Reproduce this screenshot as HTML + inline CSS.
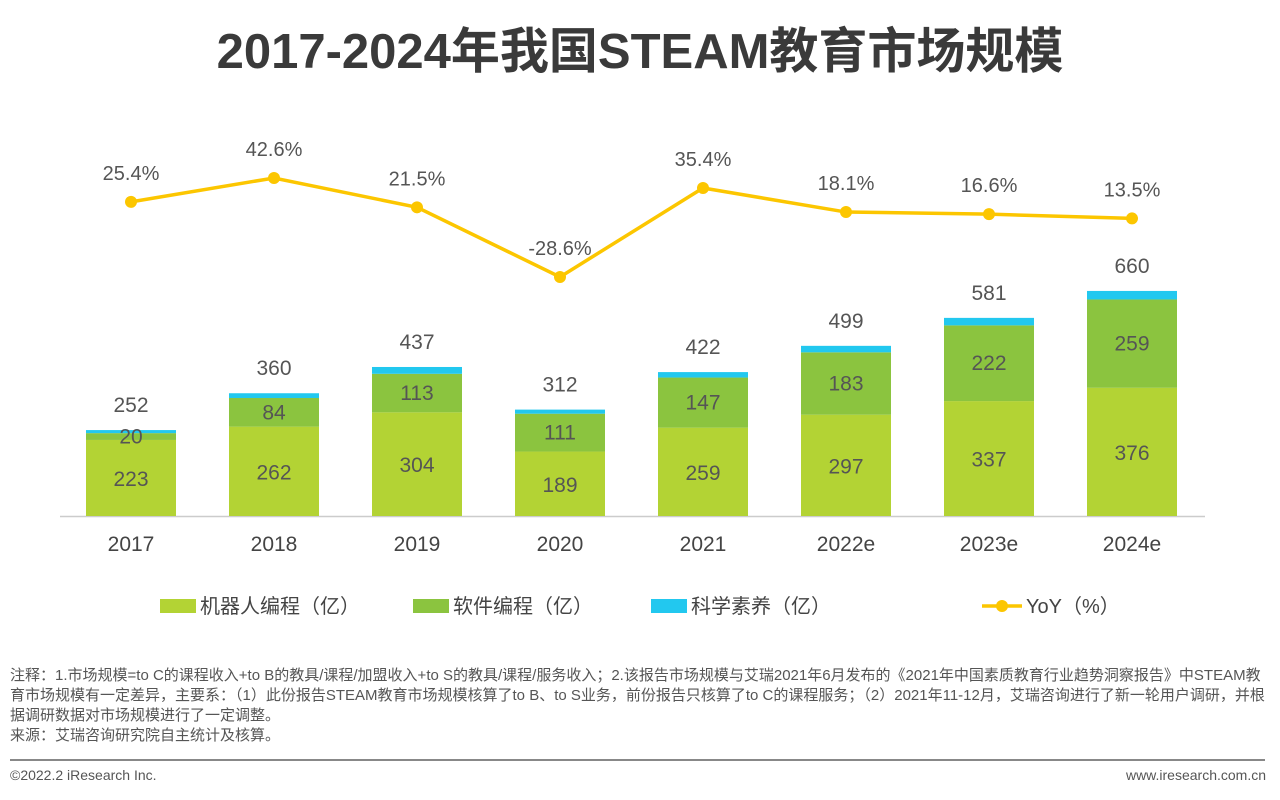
<!DOCTYPE html>
<html><head><meta charset="utf-8">
<style>
body{margin:0;width:1280px;height:800px;background:#fff;font-family:"Liberation Sans","Noto Sans CJK SC",sans-serif;overflow:hidden;position:relative}
.title{position:absolute;top:12px;left:0;width:1280px;text-align:center;font-size:49px;font-weight:bold;color:#3a3a3a}
.note{position:absolute;left:10px;top:666px;width:1262px;font-size:15px;line-height:20px;color:#555}
.rule{position:absolute;left:10px;top:759px;width:1255px;height:2px;background:#888}
.foot{position:absolute;top:767px;font-size:14px;color:#555}
</style></head><body>
<div class="title">2017-2024年我国STEAM教育市场规模</div>
<svg id="chart" width="1280" height="660" style="position:absolute;left:0;top:0"></svg>
<div class="note">注释：1.市场规模=to C的课程收入+to B的教具/课程/加盟收入+to S的教具/课程/服务收入；2.该报告市场规模与艾瑞2021年6月发布的《2021年中国素质教育行业趋势洞察报告》中STEAM教育市场规模有一定差异，主要系：（1）此份报告STEAM教育市场规模核算了to B、to S业务，前份报告只核算了to C的课程服务；（2）2021年11-12月，艾瑞咨询进行了新一轮用户调研，并根据调研数据对市场规模进行了一定调整。<br>来源：艾瑞咨询研究院自主统计及核算。</div>
<div class="rule"></div>
<div class="foot" style="left:10px">©2022.2 iResearch Inc.</div>
<div class="foot" style="right:14px">www.iresearch.com.cn</div>
<script>
const categories=["2017","2018","2019","2020","2021","2022e","2023e","2024e"];
const robot=[223,262,304,189,259,297,337,376];
const software=[20,84,113,111,147,183,222,259];
const science=[9,14,20,12,16,19,22,25];
const totals=[252,360,437,312,422,499,581,660];
const yoy=[25.4,42.6,21.5,-28.6,35.4,18.1,16.6,13.5];
const yoyLabels=["25.4%","42.6%","21.5%","-28.6%","35.4%","18.1%","16.6%","13.5%"];

const NS="http://www.w3.org/2000/svg";
const svg=document.getElementById("chart");
function el(t,a,txt){const e=document.createElementNS(NS,t);for(const k in a)e.setAttribute(k,a[k]);if(txt!=null)e.textContent=txt;svg.appendChild(e);return e;}
const base=516, k=0.341;
const xC=i=>131+143*i;
const yV=v=>base-v*k;
const yY=p=>237.2-1.39*p;
const BW=90;
const FF='"Liberation Sans","Noto Sans CJK SC",sans-serif';

let ax=el("line",{x1:60,x2:1205,y1:base+0.5,y2:base+0.5,stroke:"#ccc","stroke-width":1.5});



categories.forEach((c,i)=>{
  const x=xC(i)-BW/2;
  const y1=yV(robot[i]), y2=yV(robot[i]+software[i]), y3=yV(robot[i]+software[i]+science[i]);
  let r=el("rect",{x:x,y:y1,width:BW,height:base-y1,fill:"#b3d334"});
  
  
  let s=el("rect",{x:x,y:y2,width:BW,height:y1-y2,fill:"#8bc43f"});
  
  
  let b=el("rect",{x:x,y:y3,width:BW,height:y2-y3,fill:"#22c8ef"});
  
  
  let t1=el("text",{x:xC(i),y:(y1+base)/2+8,"text-anchor":"middle","font-size":21,fill:"#555","font-family":FF},robot[i]);
  
  
  let t2=el("text",{x:xC(i),y:(y1+y2)/2+7,"text-anchor":"middle","font-size":21,fill:"#555","font-family":FF},software[i]);
  
  
  let t3=el("text",{x:xC(i),y:yV(totals[i])-18,"text-anchor":"middle","font-size":21,fill:"#555","font-family":FF},totals[i]);
  
  
  let tc=el("text",{x:xC(i),y:551,"text-anchor":"middle","font-size":21,fill:"#444","font-family":FF},c);
  
  
});

let pl=el("polyline",{points:yoy.map((v,i)=>xC(i)+","+yY(v)).join(" "),fill:"none",stroke:"#fcc600","stroke-width":3.5});


yoy.forEach((v,i)=>{
  let c=el("circle",{cx:xC(i),cy:yY(v),r:6,fill:"#fcc600"});
  
  
  let t=el("text",{x:xC(i),y:yY(v)-22,"text-anchor":"middle","font-size":20,fill:"#555","font-family":FF},yoyLabels[i]);
  
  
});

const leg=[["机器人编程（亿）","#b3d334",160],["软件编程（亿）","#8bc43f",413],["科学素养（亿）","#22c8ef",651]];
leg.forEach((l,i)=>{
  let r=el("rect",{x:l[2],y:599,width:36,height:14,fill:l[1]});
  
  
  let t=el("text",{x:l[2]+40,y:613,"font-size":20,fill:"#444","font-family":FF},l[0]);
  
  
});
let ll=el("line",{x1:982,x2:1022,y1:606,y2:606,stroke:"#fcc600","stroke-width":3.5});


let lc=el("circle",{cx:1002,cy:606,r:6,fill:"#fcc600"});


let lt=el("text",{x:1026,y:613,"font-size":20,fill:"#444","font-family":FF},"YoY（%）");


</script>
</body></html>
